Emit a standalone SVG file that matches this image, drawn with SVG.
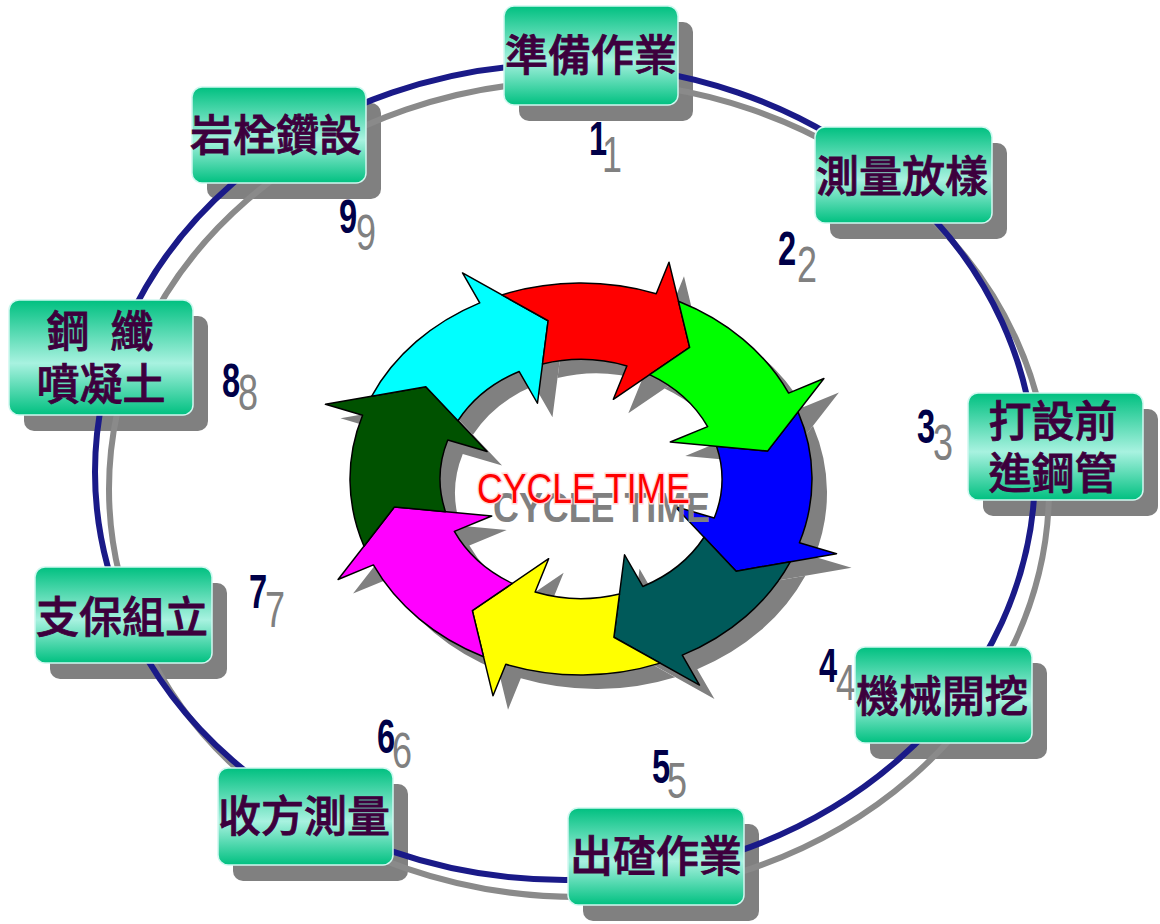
<svg xmlns="http://www.w3.org/2000/svg" width="1160" height="924" viewBox="0 0 1160 924">
<defs>
<linearGradient id="boxg" x1="0" y1="0" x2="0" y2="1">
<stop offset="0" stop-color="#00c080"/>
<stop offset="0.55" stop-color="#a8f2e0"/>
<stop offset="1" stop-color="#00c080"/>
</linearGradient>
</defs>
<style>
.sh{fill:#808080}
.box{fill:url(#boxg);stroke:#d0f8f0;stroke-width:1.5}
.lbl{font-family:"Liberation Sans","Noto Sans CJK TC",sans-serif;font-weight:500;font-size:43px;fill:#3d003d;text-anchor:middle;stroke:#3d003d;stroke-width:0.8}
.num{font-family:"Liberation Sans",sans-serif;font-weight:bold;font-size:48px;fill:#000048;text-anchor:middle}
.numsh{font-family:"Liberation Sans",sans-serif;font-size:50px;fill:#808080;text-anchor:middle}
.arr{stroke:#000;stroke-width:1.5;stroke-linejoin:round}
.ring{fill:none;stroke-width:6}
</style>
<rect width="1160" height="924" fill="#fff"/>

<g id="box-shadows" class="sh">
<rect x="519" y="22" width="174" height="99" rx="10"/>
<rect x="830" y="143" width="177" height="96" rx="10"/>
<rect x="983" y="409" width="175" height="107" rx="10"/>
<rect x="870" y="663" width="177" height="96" rx="10"/>
<rect x="583" y="824" width="176" height="97" rx="10"/>
<rect x="233" y="784" width="175" height="97" rx="10"/>
<rect x="50" y="583" width="177" height="96" rx="10"/>
<rect x="24" y="316" width="184" height="115" rx="10"/>
<rect x="207" y="103" width="174" height="96" rx="10"/>
</g>

<g id="connectors">
<ellipse class="ring" cx="579" cy="489" rx="470" ry="408" stroke="#8a8a8a"/>
<ellipse class="ring" cx="565" cy="472" rx="470" ry="408" stroke="#1a1a88"/>
</g>

<g id="cycle">
<g id="cycle-shadow" class="sh" transform="translate(15,14)">
<path d="M 798.01,411.83 A 231 196 0 0 1 799.41,542.81 L 836.55,553.66 L 736.16,571.19 L 674.92,506.44 L 714.23,517.93 A 140.91 119.56 0 0 0 716.55,446.35 L 767.54,451.09 Z"/>
<path d="M 790.42,561.71 A 231 196 0 0 1 682.26,655.16 L 699.48,685.11 L 613.89,637.27 L 624.54,554.75 L 642.77,586.46 A 140.91 119.56 0 0 0 704.06,537.24 L 736.16,571.19 Z"/>
<path d="M 660.16,663.13 A 231 196 0 0 1 505.79,664.32 L 493.01,695.82 L 472.35,610.65 L 548.66,558.69 L 535.12,592.05 A 140.91 119.56 0 0 0 619.49,594.01 L 613.89,637.27 Z"/>
<path d="M 483.52,656.69 A 231 196 0 0 1 373.38,564.92 L 338.08,579.53 L 394.46,506.91 L 491.72,515.95 L 454.35,531.41 A 140.91 119.56 0 0 0 512.36,583.42 L 472.35,610.65 Z"/>
<path d="M 363.99,546.17 A 231 196 0 0 1 362.59,415.19 L 325.45,404.34 L 425.84,386.81 L 487.08,451.56 L 447.77,440.07 A 140.91 119.56 0 0 0 445.45,511.65 L 394.46,506.91 Z"/>
<path d="M 371.58,396.29 A 231 196 0 0 1 479.74,302.84 L 462.52,272.89 L 548.11,320.73 L 537.46,403.25 L 519.23,371.54 A 140.91 119.56 0 0 0 457.94,420.76 L 425.84,386.81 Z"/>
<path d="M 501.84,294.87 A 231 196 0 0 1 656.21,293.68 L 668.99,262.18 L 689.65,347.35 L 613.34,399.31 L 626.88,365.95 A 140.91 119.56 0 0 0 542.51,363.99 L 548.11,320.73 Z"/>
<path d="M 678.48,301.31 A 231 196 0 0 1 788.62,393.08 L 823.92,378.47 L 767.54,451.09 L 670.28,442.05 L 707.65,426.59 A 140.91 119.56 0 0 0 649.64,374.58 L 689.65,347.35 Z"/>
</g>
<path class="arr" fill="#0000ff" d="M 798.01,411.83 A 231 196 0 0 1 799.41,542.81 L 836.55,553.66 L 736.16,571.19 L 674.92,506.44 L 714.23,517.93 A 140.91 119.56 0 0 0 716.55,446.35 L 767.54,451.09 Z"/>
<path class="arr" fill="#005a5a" d="M 790.42,561.71 A 231 196 0 0 1 682.26,655.16 L 699.48,685.11 L 613.89,637.27 L 624.54,554.75 L 642.77,586.46 A 140.91 119.56 0 0 0 704.06,537.24 L 736.16,571.19 Z"/>
<path class="arr" fill="#ffff00" d="M 660.16,663.13 A 231 196 0 0 1 505.79,664.32 L 493.01,695.82 L 472.35,610.65 L 548.66,558.69 L 535.12,592.05 A 140.91 119.56 0 0 0 619.49,594.01 L 613.89,637.27 Z"/>
<path class="arr" fill="#ff00ff" d="M 483.52,656.69 A 231 196 0 0 1 373.38,564.92 L 338.08,579.53 L 394.46,506.91 L 491.72,515.95 L 454.35,531.41 A 140.91 119.56 0 0 0 512.36,583.42 L 472.35,610.65 Z"/>
<path class="arr" fill="#005200" d="M 363.99,546.17 A 231 196 0 0 1 362.59,415.19 L 325.45,404.34 L 425.84,386.81 L 487.08,451.56 L 447.77,440.07 A 140.91 119.56 0 0 0 445.45,511.65 L 394.46,506.91 Z"/>
<path class="arr" fill="#00ffff" d="M 371.58,396.29 A 231 196 0 0 1 479.74,302.84 L 462.52,272.89 L 548.11,320.73 L 537.46,403.25 L 519.23,371.54 A 140.91 119.56 0 0 0 457.94,420.76 L 425.84,386.81 Z"/>
<path class="arr" fill="#ff0000" d="M 501.84,294.87 A 231 196 0 0 1 656.21,293.68 L 668.99,262.18 L 689.65,347.35 L 613.34,399.31 L 626.88,365.95 A 140.91 119.56 0 0 0 542.51,363.99 L 548.11,320.73 Z"/>
<path class="arr" fill="#00ff00" d="M 678.48,301.31 A 231 196 0 0 1 788.62,393.08 L 823.92,378.47 L 767.54,451.09 L 670.28,442.05 L 707.65,426.59 A 140.91 119.56 0 0 0 649.64,374.58 L 689.65,347.35 Z"/>
<text x="493" y="522" textLength="217" lengthAdjust="spacingAndGlyphs" font-family="Liberation Sans, sans-serif" font-weight="bold" font-size="42" fill="#808080">CYCLE TIME</text>
<text x="477" y="503" textLength="213" lengthAdjust="spacingAndGlyphs" font-family="Liberation Sans, sans-serif" font-size="42" fill="#ff0000" stroke="#ffd8d8" stroke-width="3" paint-order="stroke">CYCLE TIME</text>
</g>

<g id="numbers">
<text class="numsh" transform="translate(612,172) scale(0.72,1)">1</text>
<text class="num" transform="translate(598,155) scale(0.68,1)">1</text>
<text class="numsh" transform="translate(807,282) scale(0.72,1)">2</text>
<text class="num" transform="translate(787,265) scale(0.68,1)">2</text>
<text class="numsh" transform="translate(943,460) scale(0.72,1)">3</text>
<text class="num" transform="translate(926,443) scale(0.68,1)">3</text>
<text class="numsh" transform="translate(846,700) scale(0.72,1)">4</text>
<text class="num" transform="translate(828,682) scale(0.68,1)">4</text>
<text class="numsh" transform="translate(677,798) scale(0.72,1)">5</text>
<text class="num" transform="translate(661,783) scale(0.68,1)">5</text>
<text class="numsh" transform="translate(402,768) scale(0.72,1)">6</text>
<text class="num" transform="translate(386,753) scale(0.68,1)">6</text>
<text class="numsh" transform="translate(275,627) scale(0.72,1)">7</text>
<text class="num" transform="translate(258,608) scale(0.68,1)">7</text>
<text class="numsh" transform="translate(248,410) scale(0.72,1)">8</text>
<text class="num" transform="translate(231,397) scale(0.68,1)">8</text>
<text class="numsh" transform="translate(366,250) scale(0.72,1)">9</text>
<text class="num" transform="translate(348,233) scale(0.68,1)">9</text>
</g>

<g id="node1"><rect class="box" x="504" y="6" width="174" height="99" rx="10"/><text class="lbl" x="591" y="71">準備作業</text></g>
<g id="node2"><rect class="box" x="815" y="127" width="177" height="96" rx="10"/><text class="lbl" x="902" y="192">測量放樣</text></g>
<g id="node3"><rect class="box" x="968" y="393" width="175" height="107" rx="10"/><text class="lbl" x="1053" y="437">打設前</text><text class="lbl" x="1053" y="489">進鋼管</text></g>
<g id="node4"><rect class="box" x="855" y="647" width="177" height="96" rx="10"/><text class="lbl" x="942" y="712">機械開挖</text></g>
<g id="node5"><rect class="box" x="568" y="808" width="176" height="97" rx="10"/><text class="lbl" x="656" y="872">出碴作業</text></g>
<g id="node6"><rect class="box" x="218" y="768" width="175" height="97" rx="10"/><text class="lbl" x="304" y="832">收方測量</text></g>
<g id="node7"><rect class="box" x="35" y="567" width="177" height="96" rx="10"/><text class="lbl" x="122" y="633">支保組立</text></g>
<g id="node8"><rect class="box" x="9" y="300" width="184" height="115" rx="10"/><text class="lbl" x="100" y="347" font-size="40" textLength="107" lengthAdjust="spacing">鋼 纖</text><text class="lbl" x="101" y="400" font-size="40">噴凝土</text></g>
<g id="node9"><rect class="box" x="192" y="87" width="174" height="96" rx="10"/><text class="lbl" x="276" y="151">岩栓鑽設</text></g>
</svg>
